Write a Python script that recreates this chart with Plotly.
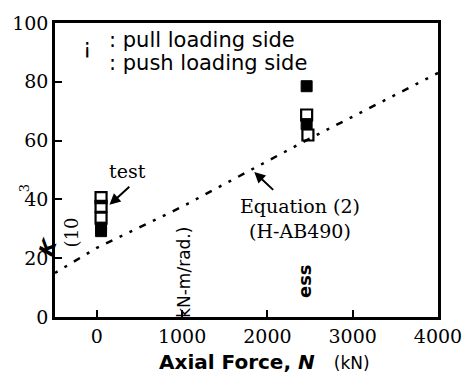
import plotly.graph_objects as go

# --- data ---
eq_N = [-490, 0, 1000, 1800, 2450, 4000]
eq_K = [15.0, 23.5, 37.5, 50.0, 60.0, 83.0]

open_N = [50, 50, 50, 2460, 2475]
open_K = [40.6, 37.6, 33.6, 68.7, 61.9]
fill_N = [50, 50, 2460, 2460]
fill_K = [30.4, 29.2, 78.5, 65.6]

x_ticks = [0, 1000, 2000, 3000, 4000]
y_ticks = [0, 20, 40, 60, 80, 100]

W, H = 474, 378
L, R, T, B = 52, 28, 13, 61
PW, PH = W - L - R, H - T - B


def px(x):
    return (x - L) / PW


def py(y):
    return (H - B - y) / PH


fig = go.Figure()
fig.add_trace(go.Scatter(x=eq_N, y=eq_K, mode="lines",
                         line=dict(color="black", width=2.5, dash="3px,8px,3px,8px,7px,8px"),
                         showlegend=False, hoverinfo="skip"))
fig.add_trace(go.Scatter(x=fill_N, y=fill_K, mode="markers",
                         marker=dict(symbol="square", size=11, color="black",
                                     line=dict(color="black", width=1)),
                         showlegend=False))
fig.add_trace(go.Scatter(x=open_N, y=open_K, mode="markers",
                         marker=dict(symbol="square-open", size=11, color="black",
                                     line=dict(color="black", width=2.2)),
                         showlegend=False))

serif = "DejaVu Serif, serif"
sans = "DejaVu Sans, sans-serif"

ann = []


def t(text, x, y, size, family, angle=0, xanchor="center", color="black"):
    ann.append(dict(text=text, x=px(x), y=py(y), xref="paper", yref="paper",
                    showarrow=False, xanchor=xanchor, yanchor="middle",
                    textangle=angle, font=dict(size=size, family=family, color=color)))


# legend-like text
t("¡", 85, 38, 21, sans)
t(": pull loading side", 106, 31, 21, sans, xanchor="left")
t(": push loading side", 106, 54, 21, sans, xanchor="left")

# annotations
t("test", 127, 166, 19, serif)
t("Equation (2)<br>(H-AB490)", 304, 215, 19, serif)
t("<b>ess</b>", 308, 280, 18, sans, angle=-90)
t("kN-m/rad.)", 184, 271, 17, sans, angle=-90)

# y axis title pieces
t("3", 21, 184, 13, serif, angle=-90)
t("(10", 69, 230, 18, serif, angle=-90)
t("<b><i>K</i></b>", 45, 245, 20, sans, angle=-70)

# x axis title
ann.append(dict(text="<b>Axial Force, <i>N</i></b>   <span style='font-size:17px'>(kN)</span>",
                x=px(157), y=py(364), xref="paper", yref="paper", showarrow=False,
                xanchor="left", yanchor="middle", font=dict(size=20, family=sans, color="black")))

# arrows
for (hx, hy, tx, ty) in [(108, 201, 130, 181), (257, 167, 278, 187)]:
    ann.append(dict(x=px(hx), y=py(hy), ax=px(tx), ay=py(ty), xref="x domain", yref="y domain",
                    axref="x domain", ayref="y domain", showarrow=True, arrowhead=2,
                    arrowsize=1.1, arrowwidth=2, arrowcolor="black", text=""))

fig.update_layout(
    width=W, height=H,
    margin=dict(l=L, r=R, t=T, b=B),
    paper_bgcolor="white", plot_bgcolor="white",
    annotations=ann,
    xaxis=dict(range=[-490, 4000], tickvals=x_ticks, ticktext=[str(v) for v in x_ticks],
               ticks="inside", ticklen=7, tickwidth=2, tickcolor="black",
               showline=True, linewidth=2.5, linecolor="black", mirror=True,
               showgrid=False, zeroline=False,
               tickfont=dict(size=19, family=serif, color="black")),
    yaxis=dict(range=[0, 100], tickvals=y_ticks, ticktext=[str(v) for v in y_ticks],
               ticks="inside", ticklen=7, tickwidth=2, tickcolor="black",
               showline=True, linewidth=2.5, linecolor="black", mirror=True,
               showgrid=False, zeroline=False,
               tickfont=dict(size=19, family=serif, color="black")),
)

fig.write_html("out.html")
